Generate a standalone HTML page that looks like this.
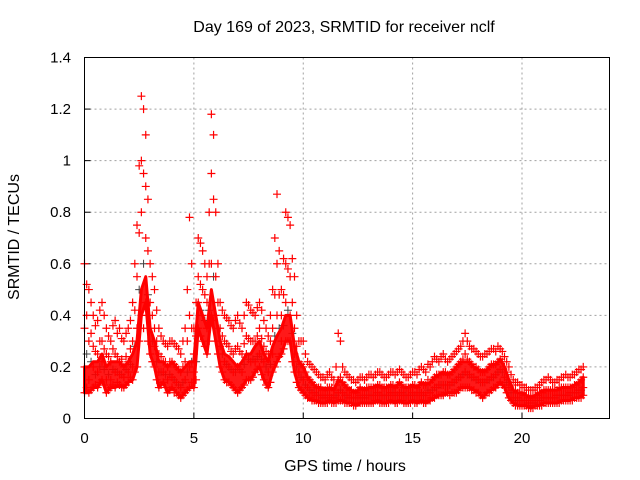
<!DOCTYPE html>
<html><head><meta charset="utf-8"><style>
body{margin:0;background:#fff;}
svg{display:block;font-family:"Liberation Sans",sans-serif;}
</style></head><body>
<svg id="chart" width="640" height="480" viewBox="0 0 640 480">
<rect width="640" height="480" fill="#fff"/>
<text x="344" y="32" font-size="16" text-anchor="middle" fill="#000">Day 169 of 2023, SRMTID for receiver nclf</text>
<g id="grid"></g>
<g id="ticks"></g>
<g id="marks"></g>
<rect x="84.5" y="57.5" width="525" height="361" fill="none" stroke="#000" stroke-width="1"/>
<text x="345" y="471" font-size="16" text-anchor="middle">GPS time / hours</text>
<text x="19" y="237" font-size="16" text-anchor="middle" transform="rotate(-90 19 237)">SRMTID / TECUs</text>
</svg>
<script>
const xTicks=[0,5,10,15,20];
const yTicks=[0,0.2,0.4,0.6,0.8,1,1.2,1.4];
const yTickLabels=["0","0.2","0.4","0.6","0.8","1","1.2","1.4"];
const hours=[0,0.2,0.4,0.6,0.8,1.0,1.2,1.4,1.6,1.8,2.0,2.2,2.4,2.6,2.8,3.0,3.2,3.4,3.6,3.8,4.0,4.2,4.4,4.6,4.8,5.0,5.2,5.4,5.6,5.8,6.0,6.2,6.4,6.6,6.8,7.0,7.2,7.4,7.6,7.8,8.0,8.2,8.4,8.6,8.8,9.0,9.2,9.4,9.6,9.8,10.0,10.2,10.4,10.6,10.8,11.0,11.2,11.4,11.6,11.8,12.0,12.2,12.4,12.6,12.8,13.0,13.2,13.4,13.6,13.8,14.0,14.2,14.4,14.6,14.8,15.0,15.2,15.4,15.6,15.8,16.0,16.2,16.4,16.6,16.8,17.0,17.2,17.4,17.6,17.8,18.0,18.2,18.4,18.6,18.8,19.0,19.2,19.4,19.6,19.8,20.0,20.2,20.4,20.6,20.8,21.0,21.2,21.4,21.6,21.8,22.0,22.2,22.4,22.6,22.8];
const vA=[.60,.50,.40,.38,.45,.35,.30,.38,.35,.30,.35,.45,.75,1.25,1.10,.60,.50,.35,.30,.28,.30,.28,.25,.35,.78,.35,.70,.65,.55,1.18,.80,.45,.40,.38,.35,.40,.35,.45,.42,.40,.45,.38,.32,.50,.87,.50,.80,.75,.55,.30,.30,.22,.20,.18,.16,.15,.18,.15,.33,.20,.17,.15,.14,.16,.15,.17,.16,.18,.17,.16,.18,.17,.19,.17,.16,.18,.17,.20,.18,.20,.24,.22,.25,.22,.24,.26,.28,.33,.28,.27,.25,.24,.25,.27,.26,.27,.24,.20,.15,.14,.13,.12,.11,.12,.13,.15,.16,.14,.15,.16,.17,.16,.17,.19,.20];
const vB=[.35,.30,.28,.25,.30,.25,.22,.25,.22,.20,.22,.30,.55,1.00,.90,.45,.35,.25,.22,.20,.22,.20,.18,.22,.40,.25,.55,.50,.45,.95,.55,.35,.30,.28,.25,.28,.25,.32,.30,.30,.35,.28,.25,.35,.60,.40,.60,.55,.35,.22,.20,.16,.14,.12,.12,.11,.12,.11,.15,.14,.12,.11,.10,.12,.11,.12,.12,.13,.12,.12,.13,.12,.14,.12,.12,.13,.12,.14,.13,.14,.16,.17,.18,.17,.18,.20,.22,.25,.22,.20,.19,.18,.19,.21,.21,.23,.20,.15,.11,.10,.10,.09,.08,.09,.10,.11,.11,.11,.11,.12,.12,.12,.13,.14,.16];
const vC=[.20,.15,.20,.18,.22,.15,.15,.18,.17,.16,.18,.20,.35,.80,.70,.35,.28,.18,.18,.15,.16,.14,.12,.15,.20,.18,.45,.40,.35,.60,.40,.28,.22,.20,.18,.20,.18,.25,.22,.22,.25,.22,.18,.25,.40,.30,.45,.40,.25,.18,.15,.12,.10,.09,.09,.08,.09,.08,.10,.10,.09,.08,.08,.09,.08,.09,.09,.10,.09,.09,.10,.09,.10,.09,.09,.10,.09,.10,.09,.10,.12,.13,.13,.13,.14,.15,.16,.18,.17,.16,.15,.14,.15,.16,.17,.19,.16,.12,.08,.08,.07,.07,.06,.07,.07,.08,.08,.08,.09,.09,.09,.10,.10,.11,.12];
const vD=[.10,.10,.12,.12,.15,.10,.12,.12,.13,.12,.14,.15,.20,.40,.45,.25,.20,.12,.14,.10,.12,.10,.08,.10,.12,.12,.35,.30,.25,.40,.30,.20,.15,.14,.12,.10,.12,.15,.15,.18,.20,.15,.12,.18,.22,.25,.30,.30,.18,.12,.10,.08,.07,.07,.06,.06,.07,.06,.07,.07,.06,.06,.05,.06,.06,.06,.06,.07,.06,.06,.07,.06,.07,.06,.06,.07,.06,.07,.06,.07,.08,.09,.09,.10,.10,.10,.12,.12,.12,.11,.10,.08,.10,.11,.12,.14,.12,.08,.06,.05,.05,.05,.04,.05,.05,.06,.06,.06,.06,.07,.07,.07,.08,.08,.09];
const hours2=[0.1,0.3,0.5,0.7,0.9,1.1,1.3,1.5,1.7,1.9,2.1,2.3,2.5,2.7,2.9,3.1,3.3,3.5,3.7,3.9,4.1,4.3,4.5,4.7,4.9,5.1,5.3,5.5,5.7,5.9,6.1,6.3,6.5,6.7,6.9,7.1,7.3,7.5,7.7,7.9,8.1,8.3,8.5,8.7,8.9,9.1,9.3,9.5,9.7,9.9,10.1,10.3,10.5,10.7,10.9,11.1,11.3,11.5,11.7,11.9,12.1,12.3,12.5,12.7,12.9,13.1,13.3,13.5,13.7,13.9,14.1,14.3,14.5,14.7,14.9,15.1,15.3,15.5,15.7,15.9,16.1,16.3,16.5,16.7,16.9,17.1,17.3,17.5,17.7,17.9,18.1,18.3,18.5,18.7,18.9,19.1,19.3,19.5,19.7,19.9,20.1,20.3,20.5,20.7,20.9,21.1,21.3,21.5,21.7,21.9,22.1,22.3,22.5,22.7];
const vE=[.52,.45,.36,.42,.40,.32,.36,.33,.31,.33,.38,.60,.98,1.20,.85,.55,.42,.32,.29,.30,.29,.27,.30,.50,.60,.45,.68,.60,.80,1.10,.60,.42,.39,.36,.38,.37,.40,.44,.41,.43,.42,.35,.40,.70,.65,.62,.78,.62,.40,.30,.25,.21,.19,.17,.16,.17,.16,.20,.30,.18,.16,.15,.15,.16,.16,.17,.17,.18,.16,.17,.18,.18,.18,.16,.17,.18,.19,.19,.21,.22,.23,.24,.23,.23,.25,.27,.30,.30,.27,.26,.24,.25,.26,.27,.28,.26,.22,.17,.14,.13,.12,.11,.11,.12,.14,.15,.15,.14,.15,.16,.16,.17,.18,.19];
const vF=[.40,.33,.26,.30,.27,.24,.27,.24,.23,.24,.27,.42,.72,.95,.65,.40,.30,.24,.22,.22,.21,.19,.20,.30,.35,.32,.52,.48,.60,.85,.45,.32,.29,.26,.27,.26,.29,.31,.30,.32,.31,.26,.30,.48,.48,.48,.58,.45,.28,.21,.18,.15,.13,.12,.11,.12,.12,.13,.16,.13,.11,.10,.11,.11,.12,.12,.12,.13,.12,.12,.13,.13,.13,.12,.12,.13,.13,.13,.15,.15,.17,.17,.18,.17,.19,.21,.23,.23,.21,.20,.18,.18,.20,.21,.22,.22,.18,.13,.11,.10,.09,.08,.08,.09,.10,.11,.11,.11,.12,.12,.12,.12,.13,.15];
const vG=[.25,.22,.17,.20,.19,.17,.19,.18,.17,.19,.21,.28,.50,.60,.48,.30,.22,.18,.17,.17,.15,.13,.14,.18,.22,.22,.42,.38,.42,.55,.35,.25,.21,.19,.18,.19,.21,.23,.23,.24,.23,.20,.21,.32,.35,.36,.42,.33,.20,.16,.13,.11,.10,.09,.08,.09,.08,.09,.11,.09,.08,.08,.08,.08,.09,.09,.09,.09,.09,.09,.10,.09,.10,.09,.09,.09,.10,.09,.11,.11,.12,.13,.13,.13,.14,.16,.17,.17,.16,.15,.14,.14,.15,.16,.18,.18,.14,.10,.08,.07,.07,.06,.06,.07,.08,.08,.08,.08,.09,.09,.09,.10,.10,.11];
const vH=[.12,.11,.13,.14,.13,.11,.13,.14,.12,.13,.16,.18,.30,.35,.30,.22,.15,.13,.12,.11,.10,.09,.09,.11,.14,.15,.32,.28,.30,.38,.25,.18,.14,.13,.11,.11,.13,.15,.16,.19,.17,.13,.14,.20,.24,.27,.30,.22,.14,.11,.09,.08,.07,.06,.06,.06,.06,.06,.07,.06,.06,.05,.06,.06,.06,.06,.07,.06,.06,.06,.07,.06,.07,.06,.06,.06,.07,.06,.07,.08,.09,.09,.10,.09,.10,.11,.12,.12,.11,.10,.09,.09,.10,.12,.13,.13,.10,.07,.05,.05,.05,.04,.04,.05,.05,.06,.06,.06,.06,.07,.07,.07,.08,.08];
const X0=84.5,X1=609.5,Y0=418.5,Y1=57.5,XMAX=24,YMAX=1.4;
function xs(v){return X0+(X1-X0)*v/XMAX;}
function ys(v){return Y0-(Y0-Y1)*v/YMAX;}
const NS="http://www.w3.org/2000/svg";
const grid=document.getElementById('grid'),ticks=document.getElementById('ticks'),marks=document.getElementById('marks');
function mk(tag,attrs,parent){const e=document.createElementNS(NS,tag);for(const k in attrs)e.setAttribute(k,attrs[k]);parent.appendChild(e);return e;}
xTicks.forEach(function(t,i){
  const x=xs(t);
  if(i>0){const g=mk('line',{x1:x,x2:x,y1:Y1,y2:Y0,stroke:'#a0a0a0','stroke-dasharray':'2,3'},grid);
  
  }
  const tl=mk('line',{x1:x,x2:x,y1:Y0,y2:Y0-6,stroke:'#000'},ticks);
  
  
  const tx=mk('text',{x:x,y:443,'font-size':15,'text-anchor':'middle'},ticks);
  tx.textContent=String(t);
  
  
});
yTicks.forEach(function(t,i){
  const y=ys(t);
  if(i>0&&i<yTicks.length-1){const g=mk('line',{x1:X0,x2:X1,y1:y,y2:y,stroke:'#a0a0a0','stroke-dasharray':'2,3'},grid);
  
  }
  const tl=mk('line',{x1:X0,x2:X0+6,y1:y,y2:y,stroke:'#000'},ticks);
  
  
  const tx=mk('text',{x:71,y:y+5,'font-size':15,'text-anchor':'end'},ticks);
  tx.textContent=yTickLabels[i];
  
  
});
let dg='';
vG.forEach(function(v,i){const x=xs(hours2[i]),y=ys(v);dg+='M'+(x-4)+' '+y+'H'+(x+4)+'M'+x+' '+(y-4)+'V'+(y+4);});
const pg=mk('path',{d:dg,stroke:'#404040','stroke-width':1,fill:'none'},marks);


// dense core of the point cloud (capped thickness)
let band='';
hours.forEach(function(h,i){band+=(i?'L':'M')+xs(h)+' '+ys(Math.min(vB[i],vD[i]+0.1));});
for(let i=hours.length-1;i>=0;i--){band+='L'+xs(hours[i])+' '+ys(vD[i]);}
band+='Z';
const b=mk('path',{d:band,fill:'#ff0000','fill-opacity':0.9,stroke:'#ff0000','stroke-width':3,'stroke-linejoin':'round'},marks);


let d='';
function addSeries(ts,arr){arr.forEach(function(v,i){
  const x=xs(ts[i]),y=ys(v);
  d+='M'+(x-4)+' '+y+'H'+(x+4)+'M'+x+' '+(y-4)+'V'+(y+4);
});}
addSeries(hours,vA);addSeries(hours,vB);addSeries(hours,vC);addSeries(hours,vD);
addSeries(hours2,vE);addSeries(hours2,vF);addSeries(hours2,vH);
const p=mk('path',{d:d,stroke:'#ff0000','stroke-width':1.2,fill:'none'},marks);


</script>
</body></html>
